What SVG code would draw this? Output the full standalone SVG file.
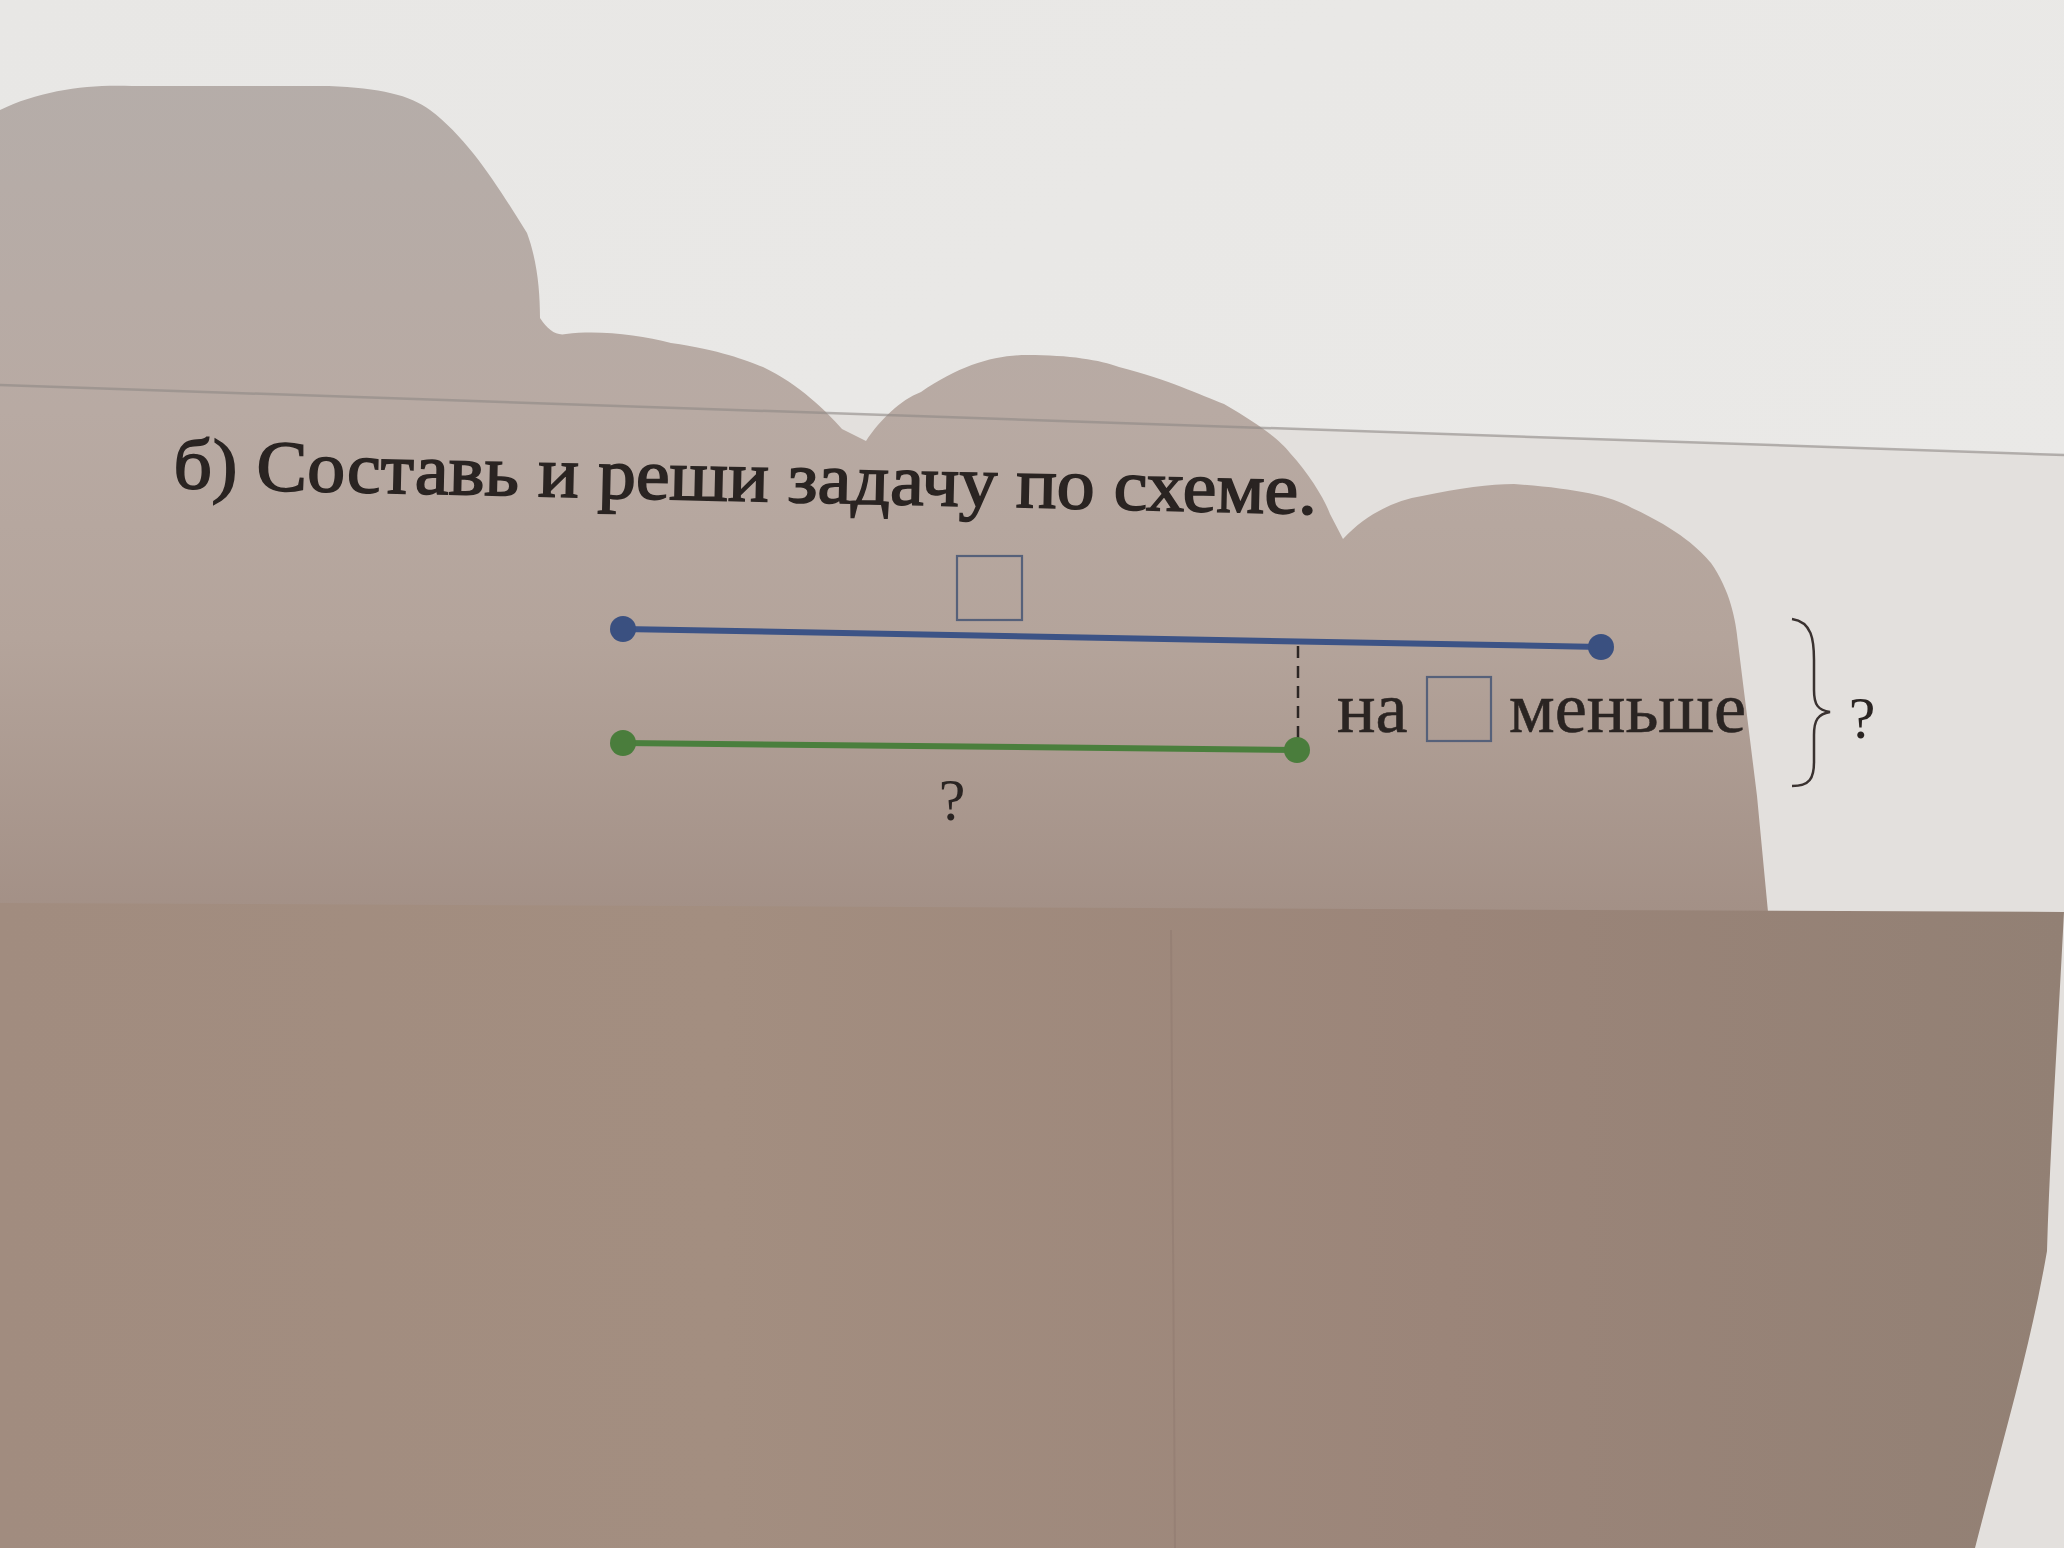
<svg xmlns="http://www.w3.org/2000/svg" width="2064" height="1548" viewBox="0 0 2064 1548">
  <defs>
    <linearGradient id="topSheet" x1="0" y1="0" x2="1" y2="1">
      <stop offset="0" stop-color="#e8e7e5"/>
      <stop offset="1" stop-color="#ebeae8"/>
    </linearGradient>
    <linearGradient id="shadow" x1="0" y1="0" x2="0" y2="912" gradientUnits="userSpaceOnUse">
      <stop offset="0.08" stop-color="#b5ada9"/>
      <stop offset="0.45" stop-color="#b8aaa3"/>
      <stop offset="0.7" stop-color="#b4a49b"/>
      <stop offset="1" stop-color="#a39086"/>
    </linearGradient>
    <linearGradient id="lowerPage" x1="0" y1="0" x2="1" y2="0">
      <stop offset="0" stop-color="#a18c7f"/>
      <stop offset="0.35" stop-color="#a38e80"/>
      <stop offset="0.7" stop-color="#9b8579"/>
      <stop offset="1" stop-color="#928074"/>
    </linearGradient>
    <style>
      .txt { font-family: "Liberation Serif", "DejaVu Serif", serif; fill: #2a2422; }
      .title { font-size: 72px; stroke: #2a2422; stroke-width: 1.6; }
      .lbl { font-size: 72px; stroke: #2a2422; stroke-width: 0.6; }
      .q { font-size: 60px; }
      .box { fill: none; stroke: #56617a; stroke-width: 2.2; }
      .blue { stroke: #3c5386; stroke-width: 6; stroke-linecap: round; fill: none; }
      .green { stroke: #4a7f3d; stroke-width: 6; stroke-linecap: round; fill: none; }
      .bdot { fill: #3a5080; }
      .gdot { fill: #4a7d3c; }
      .dash { stroke: #2c2624; stroke-width: 2.5; stroke-dasharray: 12 8; fill: none; }
      .brace { fill: none; stroke: #3a3230; stroke-width: 2.5; }
    </style>
  </defs>

  <!-- background: top sheet -->
  <rect x="0" y="0" width="2064" height="1548" fill="url(#topSheet)"/>
  <!-- textbook page -->
  <polygon points="0,385 2064,455 2064,1548 0,1548" fill="#e3e0dd"/>
  <polygon points="0,385 130,389 130,398 0,400" fill="#b59d93" opacity="0.7"/>
  <!-- hand shadow -->
  <path d="M0,110 C40,90 90,84 132,86 L329,86 C380,88 410,95 430,110 C470,140 500,190 527,233 C537,260 540,290 540,318 C548,330 556,336 566,334 C600,330 640,335 671,343 C720,350 745,360 763,367 C800,385 825,410 842,429 L866,441 C880,420 900,400 921,392 C960,365 995,355 1027,355 C1070,355 1100,360 1119,367 C1170,380 1200,395 1224,404 C1260,425 1280,440 1290,453 C1310,475 1325,500 1330,514 L1343,539 C1365,515 1395,500 1422,496 C1460,488 1490,484 1514,484 C1570,488 1610,495 1632,508 C1680,530 1700,550 1711,563 C1730,590 1736,620 1738,643 L1757,796 L1768,912 L0,912 Z" fill="url(#shadow)"/>
  <!-- page edge -->
  <line x1="0" y1="385" x2="2064" y2="455" stroke="#8f8986" stroke-width="2.5" opacity="0.6"/>
  <!-- lower page -->
  <path d="M0,903 L2064,912 C2058,1030 2050,1150 2047,1251 C2030,1350 2000,1450 1975,1548 L0,1548 Z" fill="url(#lowerPage)"/>
  <line x1="1171" y1="930" x2="1175" y2="1548" stroke="#8a746a" stroke-width="2" opacity="0.35"/>

  <!-- title -->
  <g id="title">
    <text class="txt title" x="173" y="488" textLength="1144" lengthAdjust="spacingAndGlyphs" transform="rotate(1.3 173 488)">б) Составь и реши задачу по схеме.</text>
  </g>

  <!-- connectors -->
  <g id="connectors">
    <line class="dash" x1="1298" y1="646" x2="1298" y2="742"/>
  </g>

  <g id="segment-blue">
    <line class="blue" x1="623" y1="629" x2="1601" y2="647"/>
    <circle class="bdot" cx="623" cy="629" r="13"/>
    <circle class="bdot" cx="1601" cy="647" r="13"/>
  </g>

  <g id="box-top">
    <rect class="box" x="957" y="556" width="65" height="64"/>
  </g>

  <g id="segment-green">
    <line class="green" x1="623" y1="743" x2="1297" y2="750"/>
    <circle class="gdot" cx="623" cy="743" r="13"/>
    <circle class="gdot" cx="1297" cy="750" r="13"/>
  </g>

  <g id="label-green">
    <text class="txt q" x="952" y="820" text-anchor="middle">?</text>
  </g>

  <g id="label-less">
    <text class="txt lbl" x="1337" y="732">на</text>
    <rect class="box" x="1427" y="677" width="64" height="64"/>
    <text class="txt lbl" x="1509" y="732" textLength="237" lengthAdjust="spacingAndGlyphs">меньше</text>
  </g>

  <g id="brace">
    <path class="brace" d="M1792,619 C1812,622 1814,640 1814,660 L1814,690 C1814,705 1818,710 1830,712 C1818,714 1814,720 1814,735 L1814,762 C1814,778 1810,786 1792,786"/>
    <text class="txt q" x="1862" y="738" text-anchor="middle">?</text>
  </g>
</svg>
